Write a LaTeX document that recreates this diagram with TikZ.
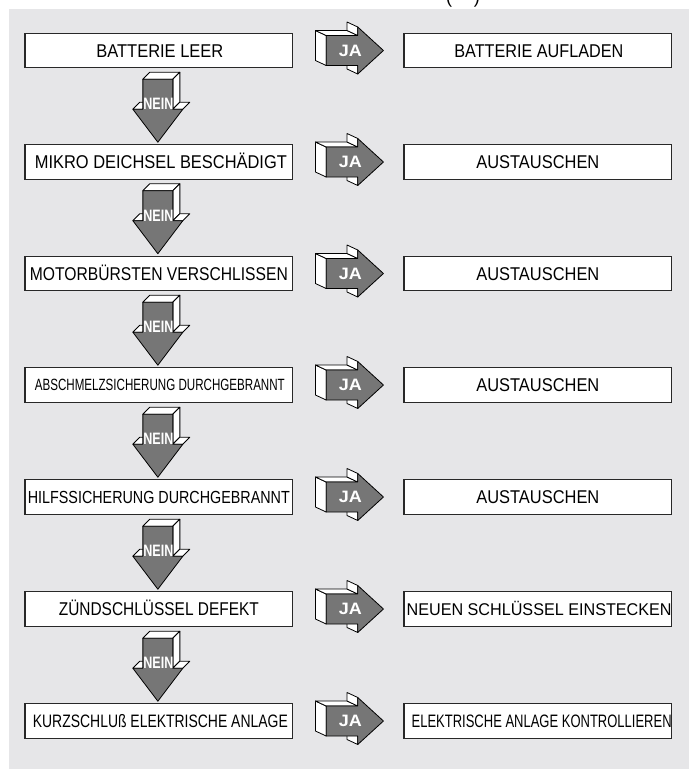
\documentclass[tikz,border=0pt]{standalone}
\usepackage{fontspec}
\usepackage{graphicx}
\setmainfont{Liberation Sans}
\usetikzlibrary{calc}
\definecolor{bg}{RGB}{230,230,232}
\definecolor{arrowgray}{RGB}{118,118,118}
\definecolor{boxline}{RGB}{40,40,40}
\newcommand{\fwtext}[3]{{\fontsize{#2}{#2}\selectfont\resizebox{#1pt}{\height}{#3}}}
\begin{document}
\begin{tikzpicture}[x=1pt,y=-1pt,
  box/.style={draw=boxline,fill=white,line width=1.1pt,minimum width=267.7pt,minimum height=34.5pt,inner sep=0pt},
  lbl/.style={inner sep=0pt,text=black,anchor=base},
  face/.style={fill=white,draw=black,line width=0.8pt,line join=round},
  front/.style={fill=arrowgray,draw=black,line width=0.8pt,line join=round},
  atext/.style={text=white,font=\bfseries\fontsize{16.5}{16.5}\selectfont,inner sep=0pt},
  jaarrow/.pic={
    \draw[face] (-57.3,15) -- (-57.3,-15) -- (-68,-20) -- (-68,10) -- cycle;
    \draw[face] (-57.3,-15) -- (-25.7,-15) -- (-36.4,-20) -- (-68,-20) -- cycle;
    \draw[face] (-25.7,-15) -- (-25.7,-23.5) -- (-36.4,-28.5) -- (-36.4,-20) -- cycle;
    \draw[face] (-25.7,23.5) -- (-25.7,15) -- (-36.4,10) -- (-36.4,18.5) -- cycle;
    \draw[front] (-57.3,-15) -- (-25.7,-15) -- (-25.7,-23.5) -- (0,0) -- (-25.7,23.5) -- (-25.7,15) -- (-57.3,15) -- cycle;
    \node[atext] (-t) at (-33,0) {\resizebox{23pt}{\height}{JA}};
  },
  neinarrow/.pic={
    \draw[face] (-15,-63) -- (15,-63) -- (22,-70) -- (-8,-70) -- cycle;
    \draw[face] (15,-63) -- (15,-33) -- (22,-40) -- (22,-70) -- cycle;
    \draw[face] (15,-33) -- (25,-33) -- (32,-40) -- (22,-40) -- cycle;
    \draw[face] (-25,-33) -- (-15,-33) -- (-8,-40) -- (-18,-40) -- cycle;
    \draw[front] (-15,-63) -- (15,-63) -- (15,-33) -- (25,-33) -- (0,0) -- (-25,-33) -- (-15,-33) -- cycle;
    \node[atext] (-t) at (0.5,-38) {\resizebox{30pt}{\height}{NEIN}};
  }]
\useasboundingbox (0,0) rectangle (689,769);
\fill[white] (0,0) rectangle (689,769);
\fill[bg] (9,9) rectangle (689,769);
\node[inner sep=0pt,anchor=base,font=\fontsize{18}{18}\selectfont] (title) at (463,3) {(\hspace{22pt})};

% boxes
\node[box] (l1) at (158.85,50.5) {};
\node[box] (r1) at (537.85,50.5) {};
\node[box] (l2) at (158.85,162) {};
\node[box] (r2) at (537.85,162) {};
\node[box] (l3) at (158.85,273.5) {};
\node[box] (r3) at (537.85,273.5) {};
\node[box] (l4) at (158.85,385) {};
\node[box] (r4) at (537.85,385) {};
\node[box] (l5) at (158.85,497) {};
\node[box] (r5) at (537.85,497) {};
\node[box] (l6) at (158.85,609) {};
\node[box] (r6) at (537.85,609) {};
\node[box] (l7) at (158.85,721) {};
\node[box] (r7) at (537.85,721) {};

% texts
\node[lbl] (lt1) at ($(l1.center)+(1,6.6)$) {\fwtext{127}{18.5}{BATTERIE LEER}};
\node[lbl] (rt1) at ($(r1.center)+(1,6.6)$) {\fwtext{169}{18.5}{BATTERIE AUFLADEN}};
\node[lbl] (lt2) at ($(l2.center)+(2,6.6)$) {\fwtext{252}{18.5}{MIKRO DEICHSEL BESCHÄDIGT}};
\node[lbl] (rt2) at ($(r2.center)+(0,6.6)$) {\fwtext{123}{18.5}{AUSTAUSCHEN}};
\node[lbl] (lt3) at ($(l3.center)+(0,6.6)$) {\fwtext{258}{18.5}{MOTORBÜRSTEN VERSCHLISSEN}};
\node[lbl] (rt3) at ($(r3.center)+(0,6.6)$) {\fwtext{123}{18.5}{AUSTAUSCHEN}};
\node[lbl] (lt4) at ($(l4.center)+(1,5.85)$) {\fwtext{250}{16.3}{ABSCHMELZSICHERUNG DURCHGEBRANNT}};
\node[lbl] (rt4) at ($(r4.center)+(0,6.6)$) {\fwtext{123}{18.5}{AUSTAUSCHEN}};
\node[lbl] (lt5) at ($(l5.center)+(0,6.3)$) {\fwtext{262}{17.5}{HILFSSICHERUNG DURCHGEBRANNT}};
\node[lbl] (rt5) at ($(r5.center)+(0,6.6)$) {\fwtext{123}{18.5}{AUSTAUSCHEN}};
\node[lbl] (lt6) at ($(l6.center)+(0,6.6)$) {\fwtext{200}{18.5}{ZÜNDSCHLÜSSEL DEFEKT}};
\node[lbl] (rt6) at ($(r6.center)+(1.3,6.1)$) {\fwtext{265}{17}{NEUEN SCHLÜSSEL EINSTECKEN}};
\node[lbl] (lt7) at ($(l7.center)+(1.5,6.45)$) {\fwtext{255}{18}{KURZSCHLUß ELEKTRISCHE ANLAGE}};
\node[lbl] (rt7) at ($(r7.center)+(3.8,6.45)$) {\fwtext{260}{18}{ELEKTRISCHE ANLAGE KONTROLLIEREN}};

% JA arrows
\pic (ja1) at ($(r1.west)+(-20,0)$) {jaarrow};
\pic (ja2) at ($(r2.west)+(-20,0)$) {jaarrow};
\pic (ja3) at ($(r3.west)+(-20,0)$) {jaarrow};
\pic (ja4) at ($(r4.west)+(-20,0)$) {jaarrow};
\pic (ja5) at ($(r5.west)+(-20,0)$) {jaarrow};
\pic (ja6) at ($(r6.west)+(-20,0)$) {jaarrow};
\pic (ja7) at ($(r7.west)+(-20,0)$) {jaarrow};

% NEIN arrows
\pic (nein1) at ($(l2.north)+(-1,-2)$) {neinarrow};
\pic (nein2) at ($(l3.north)+(-1,-2)$) {neinarrow};
\pic (nein3) at ($(l4.north)+(-1,-2)$) {neinarrow};
\pic (nein4) at ($(l5.north)+(-1,-2)$) {neinarrow};
\pic (nein5) at ($(l6.north)+(-1,-2)$) {neinarrow};
\pic (nein6) at ($(l7.north)+(-1,-2)$) {neinarrow};
\end{tikzpicture}
\end{document}
